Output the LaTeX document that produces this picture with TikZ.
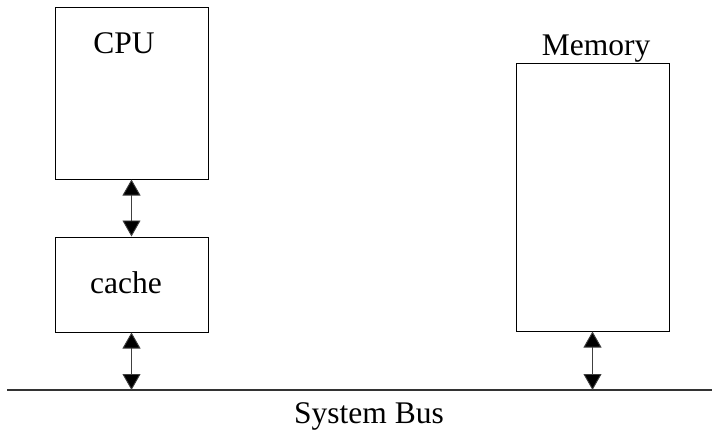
\documentclass[tikz,border=0pt]{standalone}
\usepackage{fontspec}
\setmainfont{Liberation Serif}
\usetikzlibrary{arrows.meta}
\begin{document}
\begin{tikzpicture}[x=1pt,y=-1pt,
  box/.style={draw, line width=1pt, inner sep=0pt},
  lbl/.style={inner sep=0pt, anchor=base, font=\fontsize{31.5}{36}\selectfont},
  link/.style={line width=0.9pt, draw=black!75,
    >={Triangle[width=18pt,length=16pt,fill=black]}, <->}]
\useasboundingbox (0,0) rectangle (712,434);

% units
\node[box, minimum width=153pt, minimum height=172pt] (cpu) at (131.5,93) {};
\node[box, minimum width=153pt, minimum height=95pt] (cache) at (131.5,284.5) {};
\node[box, minimum width=153pt, minimum height=268pt] (mem) at (592.5,197) {};

% labels
\node[lbl] (cpulbl) at (124,53) {CPU};
\node[lbl] (cachelbl) at (126,293) {cache};
\node[lbl] (memlbl) at (596,55) {Memory};

% system bus
\coordinate (busL) at (7,390);
\coordinate (busR) at (712,390);
\draw[line width=1.2pt, draw=black!80] (busL) -- (busR);
\node[lbl] (buslbl) at (369,423) {System Bus};

% connections
\draw[link] (cpu.south) -- (cache.north);
\draw[link] (cache.south) -- (cache.south |- busL);
\draw[link] (mem.south) -- (mem.south |- busL);
\end{tikzpicture}
\end{document}
